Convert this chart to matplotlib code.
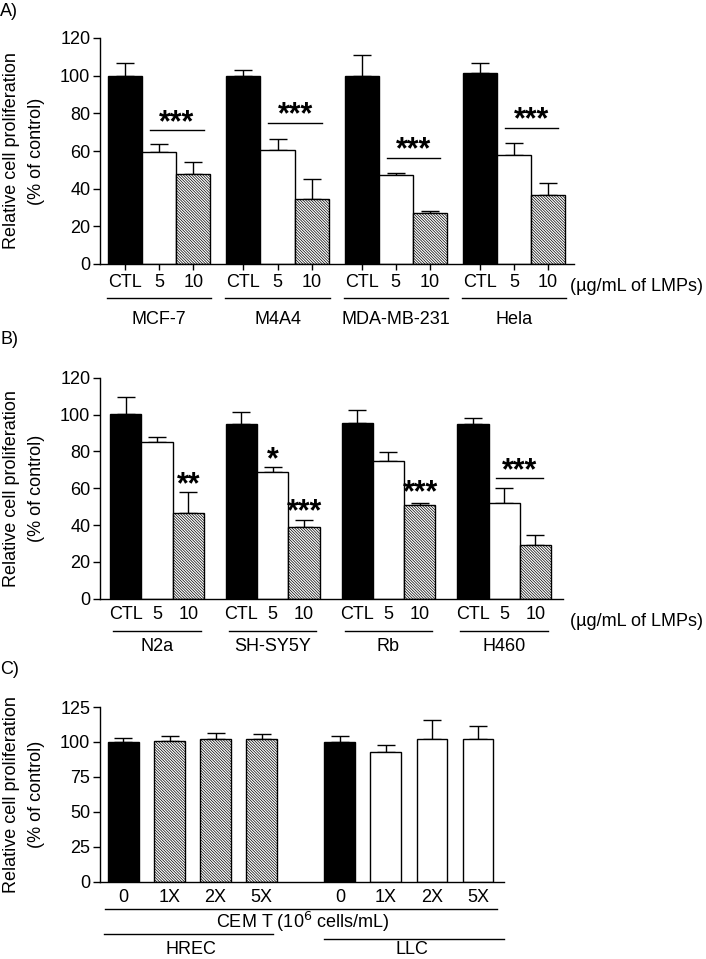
import numpy as np
import matplotlib
matplotlib.use("Agg")
import matplotlib.pyplot as plt

plt.rcParams['font.family'] = ['Liberation Sans', 'DejaVu Sans']
plt.rcParams['font.size'] = 13
plt.rcParams['hatch.linewidth'] = 0.5
plt.rcParams['hatch.color'] = '#444444'

# ---- data -------------------------------------------------------------
doses = ["CTL", "5", "10"]

a_lines = ["MCF-7", "M4A4", "MDA-MB-231", "Hela"]
a_mean = [[100, 59.6, 47.8], [100, 60.7, 34.7], [100, 47.1, 26.9], [101.6, 57.7, 36.5]]
a_err = [[6.6, 4.3, 6.4], [2.8, 5.8, 10.3], [11.0, 1.4, 1.4], [5.1, 6.4, 6.5]]
a_sig_y = [71, 75, 56.3, 72.4]          # bracket height over 5 / 10

b_lines = ["N2a", "SH-SY5Y", "Rb", "H460"]
b_mean = [[100.3, 85.2, 46.4], [94.7, 68.6, 39.1], [95.2, 74.6, 50.7], [94.7, 52.1, 29.3]]
b_err = [[9.2, 2.6, 11.4], [6.5, 3.1, 3.8], [7.4, 4.9, 1.4], [3.6, 8.2, 5.4]]
# (group, bar, label, y of star centre)
b_stars = [(0, 2, "**", 65.5), (1, 1, "*", 79), (1, 2, "***", 51), (2, 2, "***", 61.3)]
b_bracket = (3, "***", 65.3)

c_groups = ["HREC", "LLC"]
c_doses = ["0", "1X", "2X", "5X"]
c_mean = [[100.2, 100.5, 101.9, 102.1], [100.2, 93.1, 101.9, 102.1]]
c_err = [[2.7, 4.0, 4.3, 3.4], [4.1, 4.8, 13.6, 9.6]]

FIG_W, FIG_H = 706, 959
fig = plt.figure(figsize=(FIG_W / 100, FIG_H / 100), dpi=100)
HATCH = "\\" * 12
STAR_KW = dict(ha="center", va="bottom", fontsize=22, fontweight="bold")


def add_axes(left, right, top, bottom):
    return fig.add_axes([left / FIG_W, 1 - bottom / FIG_H,
                         (right - left) / FIG_W, (bottom - top) / FIG_H])


def style(ax):
    for s in ("top", "right"):
        ax.spines[s].set_visible(False)
    ax.spines["left"].set_linewidth(1.0)
    ax.spines["bottom"].set_linewidth(1.0)
    ax.tick_params(axis="y", direction="out", length=5, width=1, pad=2, labelsize=13)
    ax.set_ylabel("Relative cell proliferation\n(% of control)", fontsize=13,
                  linespacing=1.6, va="center")
    ax.yaxis.set_label_coords(-76 / ax.bbox.width, 0.5)


def fill_kw(kind):
    if kind == "black":
        return dict(color="black", edgecolor="black")
    if kind == "white":
        return dict(color="white", edgecolor="black")
    return dict(color="white", edgecolor="black", hatch=HATCH)


def draw_bars(ax, x, h, e, kinds, width):
    for xi, hi, ei, k in zip(x, h, e, kinds):
        ax.bar(xi, hi, width=width, linewidth=1.0, zorder=2, **fill_kw(k))
        ax.errorbar(xi, hi, yerr=[[0], [ei]], fmt="none", ecolor="black",
                    elinewidth=1.0, capsize=6.5, capthick=1.0, zorder=1)


def under(ax, px):
    return -px / ax.bbox.height


def hline(ax, x0, x1, px):
    y = under(ax, px)
    ax.plot([x0, x1], [y, y], color="black", lw=1.0, clip_on=False,
            transform=ax.get_xaxis_transform())


# ---- panel A ----------------------------------------------------------
axA = add_axes(100, 574, 38, 264)
gstep = 3.47
xa = np.concatenate([g * gstep + np.arange(3) for g in range(len(a_lines))])
draw_bars(axA, xa, np.ravel(a_mean), np.ravel(a_err), ["black", "white", "hatch"] * 4, 1.0)
axA.set_ylim(0, 120)
axA.set_yticks(range(0, 121, 20))
axA.set_xlim(-0.74, xa[-1] + 0.76)
axA.set_xticks(xa)
axA.set_xticklabels(doses * 4)
axA.tick_params(axis="x", direction="out", length=4.5, width=1, pad=3, labelsize=13)
style(axA)
for g, name in enumerate(a_lines):
    x0 = g * gstep
    c5, c10 = x0 + 1, x0 + 2
    axA.plot([c5 - 0.27, c10 + 0.3], [a_sig_y[g]] * 2, color="black", lw=1.0)
    axA.text((c5 + c10) / 2 + 0.02, a_sig_y[g] - 4.0, "***", **STAR_KW)
    hline(axA, x0 - 0.53, x0 + 2.53, 34)
    axA.text(x0 + 1, under(axA, 55), name, ha="center", va="center",
             transform=axA.get_xaxis_transform(), fontsize=13)
axA.text(1 - 4 / axA.bbox.width, under(axA, 22.5), "(\u00b5g/mL of LMPs)", ha="left",
         va="center", transform=axA.transAxes, fontsize=13)
fig.text(0, 1 - 12 / FIG_H, "A)", ha="left", va="center", fontsize=13)

# ---- panel B ----------------------------------------------------------
axB = add_axes(100, 563, 377.7, 598.7)
gstep_b = 3.7
xb = np.concatenate([g * gstep_b + np.arange(3) for g in range(len(b_lines))])
draw_bars(axB, xb, np.ravel(b_mean), np.ravel(b_err), ["black", "white", "hatch"] * 4, 1.0)
axB.set_ylim(0, 120)
axB.set_yticks(range(0, 121, 20))
axB.set_xlim(-0.82, xb[-1] + 0.88)
axB.set_xticks(xb)
axB.set_xticklabels(doses * 4)
axB.tick_params(axis="x", length=0, pad=5, labelsize=13)
style(axB)
for g, i, s, y in b_stars:
    axB.text(g * gstep_b + i + 0.02, y - 12.0, s, **STAR_KW)
g, s, y = b_bracket
c5, c10 = g * gstep_b + 1, g * gstep_b + 2
axB.plot([c5 - 0.27, c10 + 0.24], [y, y], color="black", lw=1.0)
axB.text((c5 + c10) / 2, y - 4.5, s, **STAR_KW)
for g, name in enumerate(b_lines):
    x0 = g * gstep_b
    hline(axB, x0 - 0.4, x0 + 2.4, 32)
    axB.text(x0 + 1, under(axB, 48), name, ha="center", va="center",
             transform=axB.get_xaxis_transform(), fontsize=13)
axB.text(1 + 7 / axB.bbox.width, under(axB, 23), "(\u00b5g/mL of LMPs)", ha="left",
         va="center", transform=axB.transAxes, fontsize=13)
fig.text(0, 1 - 340 / FIG_H, "B)", ha="left", va="center", fontsize=13)

# ---- panel C ----------------------------------------------------------
axC = add_axes(100, 504, 707, 881.7)
xc = np.concatenate([np.arange(4), 4.7 + np.arange(4)])
draw_bars(axC, xc, np.ravel(c_mean), np.ravel(c_err),
          ["black", "hatch", "hatch", "hatch", "black", "white", "white", "white"], 0.67)
axC.set_ylim(0, 125)
axC.set_yticks(range(0, 126, 25))
axC.set_xlim(-0.51, xc[-1] + 0.565)
axC.set_xticks(xc)
axC.set_xticklabels(c_doses * 2)
axC.tick_params(axis="x", length=0, pad=5, labelsize=13)
style(axC)
hline(axC, -0.4, xc[-1] + 0.42, 27.6)
axC.text((xc[0] + xc[-1]) / 2 + 0.05, under(axC, 40.5), "CEM T (10$^{6}$ cells/mL)",
         ha="center", va="center", transform=axC.get_xaxis_transform(), fontsize=13)
hline(axC, -0.43, 3.25, 52.5)
hline(axC, 4.35, 8.27, 57.5)
axC.text(1.47, under(axC, 72), c_groups[0], ha="center", va="baseline",
         transform=axC.get_xaxis_transform(), fontsize=13)
axC.text(6.27, under(axC, 72), c_groups[1], ha="center", va="baseline",
         transform=axC.get_xaxis_transform(), fontsize=13)
fig.text(0, 1 - 670 / FIG_H, "C)", ha="left", va="center", fontsize=13)

fig.savefig("out.png", dpi=100)
